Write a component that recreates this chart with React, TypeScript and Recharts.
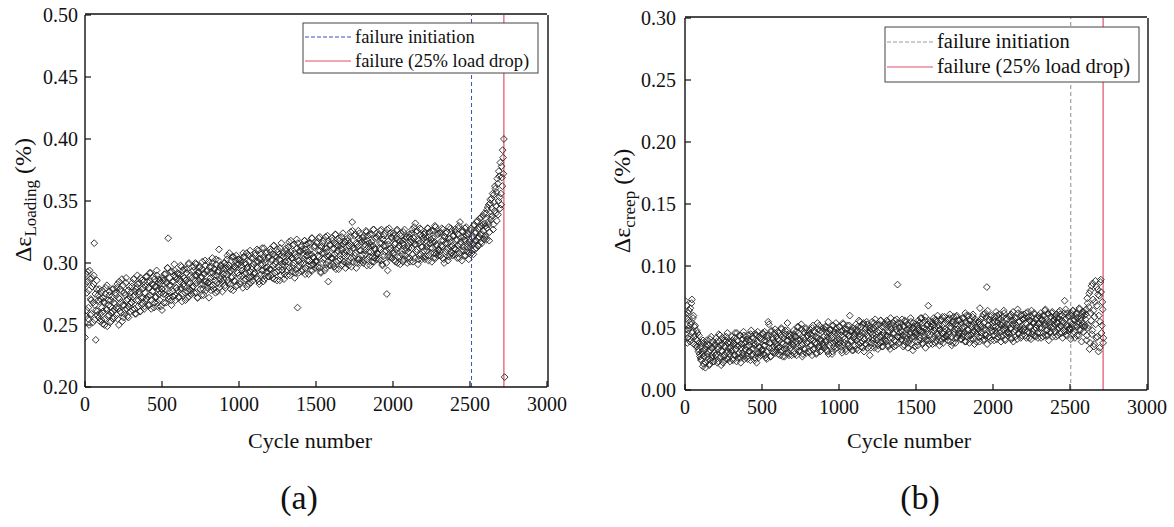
import React from 'react';
import { ScatterChart, Scatter, XAxis, YAxis, ReferenceLine } from 'recharts';

// ---------- data ----------
const CYCLE_STEP = 5;      // one reading every 5 cycles in each run of readings
const SECOND_OFFSET = 2;   // second run of readings starts at cycle 2

const X_TICKS = [0, 500, 1000, 1500, 2000, 2500, 3000];
const X_MINOR_TICKS = [0, 250, 500, 750, 1000, 1250, 1500, 1750, 2000, 2250, 2500, 2750, 3000];
const Y_TICKS_A = [0.2, 0.25, 0.3, 0.35, 0.4, 0.45, 0.5];
const Y_MINOR_TICKS_A = [0.2, 0.225, 0.25, 0.275, 0.3, 0.325, 0.35, 0.375, 0.4, 0.425, 0.45, 0.475, 0.5];
const Y_TICKS_B = [0, 0.05, 0.1, 0.15, 0.2, 0.25, 0.3];
const Y_MINOR_TICKS_B = [0, 0.025, 0.05, 0.075, 0.1, 0.125, 0.15, 0.175, 0.2, 0.225, 0.25, 0.275, 0.3];

const INITIATION_A = 2510;
const FAILURE_A = 2720;
const INITIATION_B = 2505;
const FAILURE_B = 2715;

const LEGEND_LABELS = ['failure initiation', 'failure (25% load drop)'];

// Δε_Loading (%) – rows of 20 readings = 100 cycles (cycles 0, 5, 10, ...)
const LOADING = [
  0.240, 0.291, 0.262, 0.285, 0.255, 0.278, 0.294, 0.258, 0.270, 0.288, 0.252, 0.283, 0.316, 0.266, 0.238, 0.279, 0.261, 0.274, 0.256, 0.269,
  0.259, 0.276, 0.264, 0.251, 0.272, 0.268, 0.255, 0.280, 0.262, 0.249, 0.270, 0.258, 0.277, 0.265, 0.253, 0.273, 0.261, 0.279, 0.256, 0.267,
  0.274, 0.258, 0.283, 0.263, 0.250, 0.271, 0.279, 0.260, 0.287, 0.266, 0.256, 0.276, 0.262, 0.284, 0.270, 0.257, 0.278, 0.265, 0.273, 0.261,
  0.268, 0.281, 0.262, 0.287, 0.274, 0.259, 0.279, 0.270, 0.290, 0.265, 0.277, 0.284, 0.261, 0.272, 0.286, 0.267, 0.280, 0.263, 0.276, 0.289,
  0.271, 0.285, 0.266, 0.280, 0.292, 0.274, 0.263, 0.283, 0.277, 0.289, 0.268, 0.281, 0.273, 0.294, 0.265, 0.279, 0.287, 0.270, 0.284, 0.276,
  0.262, 0.286, 0.275, 0.291, 0.279, 0.268, 0.284, 0.296, 0.320, 0.273, 0.288, 0.282, 0.270, 0.293, 0.277, 0.285, 0.299, 0.274, 0.289, 0.280,
  0.278, 0.291, 0.273, 0.287, 0.298, 0.280, 0.269, 0.289, 0.283, 0.295, 0.276, 0.286, 0.292, 0.272, 0.284, 0.300, 0.279, 0.290, 0.275, 0.288,
  0.281, 0.294, 0.276, 0.290, 0.299, 0.284, 0.272, 0.292, 0.286, 0.297, 0.279, 0.289, 0.295, 0.283, 0.274, 0.291, 0.302, 0.285, 0.293, 0.280,
  0.284, 0.272, 0.297, 0.288, 0.281, 0.300, 0.292, 0.279, 0.295, 0.286, 0.303, 0.290, 0.277, 0.294, 0.311, 0.283, 0.298, 0.289, 0.285, 0.296,
  0.287, 0.300, 0.282, 0.296, 0.291, 0.306, 0.284, 0.298, 0.293, 0.279, 0.302, 0.289, 0.295, 0.305, 0.286, 0.297, 0.281, 0.299, 0.292, 0.303,
  0.290, 0.302, 0.285, 0.298, 0.294, 0.280, 0.305, 0.291, 0.300, 0.287, 0.308, 0.296, 0.283, 0.301, 0.293, 0.289, 0.304, 0.297, 0.286, 0.299,
  0.292, 0.306, 0.288, 0.301, 0.296, 0.310, 0.285, 0.303, 0.299, 0.291, 0.312, 0.294, 0.305, 0.287, 0.300, 0.308, 0.293, 0.297, 0.304, 0.289,
  0.295, 0.309, 0.290, 0.303, 0.298, 0.314, 0.287, 0.306, 0.301, 0.293, 0.311, 0.297, 0.307, 0.286, 0.302, 0.316, 0.294, 0.299, 0.305, 0.291,
  0.298, 0.312, 0.293, 0.306, 0.301, 0.317, 0.290, 0.309, 0.304, 0.296, 0.314, 0.300, 0.308, 0.292, 0.305, 0.319, 0.264, 0.302, 0.297, 0.310,
  0.300, 0.314, 0.295, 0.308, 0.303, 0.318, 0.291, 0.311, 0.306, 0.298, 0.316, 0.302, 0.310, 0.294, 0.307, 0.320, 0.299, 0.304, 0.313, 0.296,
  0.302, 0.316, 0.297, 0.310, 0.305, 0.321, 0.293, 0.313, 0.308, 0.300, 0.318, 0.304, 0.312, 0.296, 0.309, 0.322, 0.285, 0.306, 0.315, 0.298,
  0.304, 0.318, 0.299, 0.312, 0.307, 0.323, 0.295, 0.315, 0.310, 0.302, 0.320, 0.306, 0.314, 0.298, 0.311, 0.324, 0.301, 0.308, 0.317, 0.300,
  0.306, 0.320, 0.301, 0.314, 0.309, 0.325, 0.297, 0.333, 0.312, 0.304, 0.322, 0.308, 0.316, 0.300, 0.313, 0.326, 0.303, 0.310, 0.319, 0.302,
  0.307, 0.321, 0.302, 0.315, 0.310, 0.326, 0.298, 0.318, 0.313, 0.305, 0.323, 0.309, 0.317, 0.301, 0.314, 0.327, 0.304, 0.311, 0.320, 0.303,
  0.308, 0.322, 0.303, 0.316, 0.311, 0.327, 0.299, 0.319, 0.314, 0.306, 0.324, 0.310, 0.275, 0.294, 0.315, 0.328, 0.305, 0.312, 0.321, 0.304,
  0.308, 0.322, 0.302, 0.316, 0.311, 0.326, 0.300, 0.319, 0.314, 0.305, 0.324, 0.310, 0.318, 0.301, 0.315, 0.327, 0.306, 0.312, 0.321, 0.304,
  0.309, 0.323, 0.304, 0.317, 0.312, 0.327, 0.301, 0.320, 0.315, 0.332, 0.325, 0.311, 0.319, 0.303, 0.316, 0.328, 0.307, 0.313, 0.322, 0.305,
  0.310, 0.324, 0.305, 0.318, 0.313, 0.328, 0.302, 0.321, 0.316, 0.308, 0.326, 0.312, 0.320, 0.304, 0.317, 0.329, 0.307, 0.314, 0.323, 0.306,
  0.311, 0.324, 0.306, 0.318, 0.313, 0.327, 0.303, 0.321, 0.316, 0.309, 0.325, 0.312, 0.320, 0.305, 0.317, 0.328, 0.308, 0.314, 0.322, 0.307,
  0.312, 0.325, 0.307, 0.319, 0.314, 0.328, 0.304, 0.333, 0.317, 0.310, 0.326, 0.313, 0.321, 0.306, 0.318, 0.329, 0.309, 0.315, 0.323, 0.308,
  0.313, 0.326, 0.308, 0.320, 0.316, 0.330, 0.311, 0.324, 0.318, 0.333, 0.314, 0.327, 0.321, 0.336, 0.317, 0.330, 0.323, 0.338, 0.319, 0.332,
  0.322, 0.340, 0.328, 0.345, 0.331, 0.318, 0.348, 0.335, 0.352, 0.338, 0.327, 0.355, 0.342, 0.360, 0.346, 0.334, 0.364, 0.350, 0.370, 0.344,
  0.356, 0.378, 0.362, 0.385, 0.400, 0.208,
];

// Δε_Loading (%) – second run of readings (cycles 2, 7, 12, ...)
const LOADING_2 = [
  0.283, 0.257, 0.276, 0.293, 0.264, 0.250, 0.287, 0.271, 0.259, 0.281, 0.268, 0.290, 0.254, 0.275, 0.262, 0.286, 0.258, 0.270, 0.279, 0.253,
  0.271, 0.254, 0.278, 0.261, 0.269, 0.250, 0.275, 0.263, 0.282, 0.257, 0.266, 0.274, 0.252, 0.270, 0.260, 0.279, 0.255, 0.268, 0.262, 0.276,
  0.264, 0.280, 0.255, 0.272, 0.285, 0.261, 0.268, 0.277, 0.253, 0.282, 0.266, 0.259, 0.274, 0.288, 0.263, 0.271, 0.256, 0.281, 0.267, 0.276,
  0.268, 0.284, 0.273, 0.287, 0.263, 0.277, 0.259, 0.280, 0.283, 0.270, 0.275, 0.261, 0.288, 0.266, 0.279, 0.272, 0.285, 0.265, 0.281, 0.271,
  0.289, 0.273, 0.280, 0.266, 0.285, 0.292, 0.270, 0.277, 0.283, 0.264, 0.287, 0.272, 0.281, 0.290, 0.268, 0.284, 0.275, 0.286, 0.265, 0.279,
  0.279, 0.288, 0.268, 0.286, 0.291, 0.274, 0.284, 0.296, 0.271, 0.282, 0.276, 0.293, 0.266, 0.285, 0.273, 0.290, 0.294, 0.270, 0.280, 0.287,
  0.292, 0.272, 0.290, 0.285, 0.279, 0.297, 0.275, 0.294, 0.281, 0.288, 0.270, 0.286, 0.295, 0.277, 0.299, 0.273, 0.284, 0.278, 0.293, 0.280,
  0.281, 0.297, 0.286, 0.300, 0.276, 0.290, 0.272, 0.293, 0.296, 0.283, 0.288, 0.274, 0.301, 0.279, 0.292, 0.285, 0.298, 0.278, 0.294, 0.284,
  0.301, 0.285, 0.292, 0.278, 0.297, 0.304, 0.282, 0.289, 0.295, 0.276, 0.299, 0.284, 0.293, 0.302, 0.280, 0.296, 0.287, 0.298, 0.277, 0.291,
  0.291, 0.300, 0.280, 0.298, 0.303, 0.286, 0.296, 0.308, 0.283, 0.294, 0.288, 0.305, 0.278, 0.297, 0.285, 0.302, 0.306, 0.282, 0.292, 0.299,
  0.303, 0.283, 0.301, 0.296, 0.290, 0.308, 0.286, 0.305, 0.292, 0.299, 0.281, 0.297, 0.306, 0.288, 0.310, 0.284, 0.295, 0.289, 0.304, 0.291,
  0.292, 0.308, 0.297, 0.311, 0.287, 0.301, 0.283, 0.304, 0.307, 0.294, 0.299, 0.285, 0.312, 0.290, 0.303, 0.296, 0.309, 0.289, 0.305, 0.295,
  0.311, 0.295, 0.302, 0.288, 0.307, 0.314, 0.292, 0.299, 0.305, 0.286, 0.309, 0.294, 0.303, 0.312, 0.290, 0.306, 0.297, 0.308, 0.287, 0.301,
  0.301, 0.310, 0.290, 0.308, 0.313, 0.296, 0.306, 0.318, 0.293, 0.304, 0.298, 0.315, 0.288, 0.307, 0.295, 0.312, 0.316, 0.292, 0.302, 0.309,
  0.313, 0.293, 0.311, 0.306, 0.300, 0.318, 0.296, 0.315, 0.302, 0.309, 0.291, 0.307, 0.316, 0.298, 0.320, 0.294, 0.305, 0.299, 0.314, 0.301,
  0.301, 0.317, 0.306, 0.320, 0.296, 0.310, 0.292, 0.313, 0.316, 0.303, 0.308, 0.294, 0.321, 0.299, 0.312, 0.305, 0.318, 0.298, 0.314, 0.304,
  0.320, 0.304, 0.311, 0.297, 0.316, 0.323, 0.301, 0.308, 0.314, 0.295, 0.318, 0.303, 0.312, 0.321, 0.299, 0.315, 0.306, 0.317, 0.296, 0.310,
  0.309, 0.318, 0.298, 0.316, 0.321, 0.304, 0.314, 0.326, 0.301, 0.312, 0.306, 0.323, 0.296, 0.315, 0.303, 0.320, 0.324, 0.300, 0.310, 0.317,
  0.320, 0.300, 0.318, 0.313, 0.307, 0.325, 0.303, 0.322, 0.309, 0.316, 0.298, 0.314, 0.323, 0.305, 0.327, 0.301, 0.312, 0.306, 0.321, 0.308,
  0.307, 0.323, 0.312, 0.326, 0.302, 0.316, 0.298, 0.319, 0.322, 0.309, 0.314, 0.300, 0.327, 0.305, 0.318, 0.311, 0.324, 0.304, 0.320, 0.310,
  0.324, 0.308, 0.315, 0.301, 0.320, 0.327, 0.305, 0.312, 0.318, 0.299, 0.322, 0.307, 0.316, 0.325, 0.303, 0.319, 0.310, 0.321, 0.300, 0.314,
  0.312, 0.321, 0.301, 0.319, 0.324, 0.307, 0.317, 0.329, 0.304, 0.315, 0.309, 0.326, 0.299, 0.318, 0.306, 0.323, 0.327, 0.303, 0.313, 0.320,
  0.323, 0.303, 0.321, 0.316, 0.310, 0.328, 0.306, 0.325, 0.312, 0.319, 0.301, 0.317, 0.326, 0.308, 0.330, 0.304, 0.315, 0.309, 0.324, 0.311,
  0.309, 0.325, 0.314, 0.328, 0.304, 0.318, 0.300, 0.321, 0.324, 0.311, 0.316, 0.302, 0.329, 0.307, 0.320, 0.313, 0.326, 0.306, 0.322, 0.312,
  0.327, 0.311, 0.318, 0.304, 0.323, 0.330, 0.308, 0.315, 0.321, 0.302, 0.325, 0.310, 0.319, 0.328, 0.306, 0.322, 0.313, 0.324, 0.303, 0.317,
  0.315, 0.328, 0.310, 0.322, 0.307, 0.331, 0.318, 0.325, 0.312, 0.334, 0.320, 0.314, 0.329, 0.323, 0.337, 0.316, 0.331, 0.326, 0.340, 0.321,
  0.330, 0.319, 0.343, 0.333, 0.347, 0.325, 0.351, 0.337, 0.344, 0.356, 0.331, 0.349, 0.362, 0.340, 0.357, 0.368, 0.339, 0.374, 0.353, 0.381,
  0.347, 0.369, 0.391, 0.372,
];

// Δε_creep (%) – rows of 20 readings = 100 cycles (cycles 0, 5, 10, ...)
const CREEP = [
  0.072, 0.045, 0.058, 0.038, 0.062, 0.050, 0.041, 0.066, 0.055, 0.073, 0.047, 0.060, 0.043, 0.052, 0.036, 0.048, 0.040, 0.033, 0.044, 0.029,
  0.035, 0.024, 0.031, 0.019, 0.038, 0.027, 0.033, 0.022, 0.040, 0.029, 0.025, 0.036, 0.021, 0.032, 0.043, 0.026, 0.034, 0.023, 0.030, 0.037,
  0.028, 0.039, 0.022, 0.033, 0.045, 0.026, 0.036, 0.020, 0.031, 0.042, 0.027, 0.035, 0.024, 0.040, 0.030, 0.046, 0.025, 0.034, 0.029, 0.038,
  0.031, 0.043, 0.025, 0.037, 0.028, 0.046, 0.033, 0.023, 0.040, 0.029, 0.036, 0.044, 0.026, 0.034, 0.041, 0.030, 0.047, 0.027, 0.038, 0.032,
  0.035, 0.027, 0.044, 0.031, 0.039, 0.024, 0.048, 0.033, 0.029, 0.042, 0.036, 0.026, 0.045, 0.022, 0.038, 0.030, 0.043, 0.034, 0.028, 0.041,
  0.033, 0.046, 0.029, 0.040, 0.036, 0.026, 0.044, 0.031, 0.055, 0.053, 0.038, 0.027, 0.047, 0.034, 0.042, 0.030, 0.039, 0.049, 0.032, 0.037,
  0.041, 0.029, 0.046, 0.035, 0.031, 0.050, 0.038, 0.027, 0.044, 0.033, 0.048, 0.036, 0.030, 0.054, 0.040, 0.028, 0.045, 0.034, 0.042, 0.037,
  0.036, 0.048, 0.031, 0.043, 0.039, 0.028, 0.051, 0.035, 0.046, 0.032, 0.041, 0.053, 0.037, 0.029, 0.047, 0.040, 0.033, 0.050, 0.038, 0.044,
  0.039, 0.031, 0.049, 0.036, 0.044, 0.028, 0.052, 0.040, 0.034, 0.047, 0.037, 0.030, 0.054, 0.042, 0.035, 0.048, 0.041, 0.032, 0.050, 0.038,
  0.043, 0.034, 0.051, 0.039, 0.046, 0.031, 0.055, 0.041, 0.036, 0.049, 0.044, 0.029, 0.052, 0.038, 0.047, 0.033, 0.054, 0.040, 0.045, 0.037,
  0.041, 0.051, 0.035, 0.047, 0.030, 0.054, 0.043, 0.038, 0.049, 0.033, 0.045, 0.052, 0.036, 0.044, 0.060, 0.039, 0.048, 0.032, 0.050, 0.042,
  0.045, 0.036, 0.053, 0.040, 0.048, 0.032, 0.056, 0.043, 0.038, 0.051, 0.046, 0.034, 0.054, 0.041, 0.049, 0.037, 0.055, 0.044, 0.039, 0.050,
  0.028, 0.047, 0.038, 0.055, 0.042, 0.050, 0.034, 0.057, 0.045, 0.040, 0.052, 0.036, 0.048, 0.043, 0.056, 0.039, 0.051, 0.035, 0.046, 0.053,
  0.044, 0.039, 0.056, 0.047, 0.035, 0.053, 0.042, 0.058, 0.049, 0.037, 0.054, 0.045, 0.040, 0.051, 0.036, 0.057, 0.085, 0.043, 0.050, 0.046,
  0.048, 0.040, 0.057, 0.044, 0.052, 0.036, 0.055, 0.046, 0.041, 0.053, 0.038, 0.050, 0.045, 0.058, 0.042, 0.049, 0.032, 0.054, 0.043, 0.047,
  0.045, 0.053, 0.039, 0.056, 0.048, 0.042, 0.058, 0.047, 0.037, 0.054, 0.050, 0.044, 0.059, 0.041, 0.052, 0.046, 0.068, 0.040, 0.055, 0.049,
  0.047, 0.055, 0.041, 0.058, 0.050, 0.038, 0.056, 0.045, 0.060, 0.043, 0.052, 0.048, 0.039, 0.057, 0.046, 0.053, 0.042, 0.059, 0.049, 0.044,
  0.048, 0.040, 0.057, 0.045, 0.061, 0.051, 0.043, 0.055, 0.038, 0.059, 0.047, 0.053, 0.042, 0.060, 0.049, 0.044, 0.056, 0.046, 0.052, 0.041,
  0.050, 0.043, 0.058, 0.047, 0.062, 0.039, 0.054, 0.049, 0.060, 0.044, 0.056, 0.041, 0.053, 0.046, 0.061, 0.048, 0.037, 0.057, 0.051, 0.045,
  0.049, 0.055, 0.043, 0.066, 0.051, 0.046, 0.059, 0.040, 0.054, 0.048, 0.062, 0.044, 0.083, 0.064, 0.052, 0.057, 0.042, 0.050, 0.060, 0.047,
  0.051, 0.044, 0.059, 0.048, 0.063, 0.041, 0.055, 0.050, 0.061, 0.046, 0.057, 0.043, 0.054, 0.049, 0.064, 0.052, 0.040, 0.058, 0.053, 0.047,
  0.052, 0.045, 0.060, 0.049, 0.041, 0.056, 0.063, 0.047, 0.054, 0.043, 0.058, 0.050, 0.065, 0.046, 0.055, 0.051, 0.042, 0.061, 0.048, 0.057,
  0.050, 0.058, 0.044, 0.062, 0.053, 0.047, 0.059, 0.042, 0.056, 0.051, 0.064, 0.045, 0.055, 0.049, 0.061, 0.043, 0.057, 0.052, 0.046, 0.060,
  0.054, 0.046, 0.062, 0.050, 0.057, 0.043, 0.060, 0.052, 0.065, 0.048, 0.055, 0.044, 0.061, 0.053, 0.047, 0.059, 0.051, 0.063, 0.049, 0.056,
  0.053, 0.047, 0.061, 0.055, 0.044, 0.058, 0.050, 0.064, 0.052, 0.046, 0.060, 0.054, 0.048, 0.072, 0.057, 0.045, 0.062, 0.051, 0.059, 0.049,
  0.055, 0.041, 0.060, 0.050, 0.064, 0.047, 0.057, 0.052, 0.062, 0.044, 0.058, 0.053, 0.066, 0.049, 0.056, 0.039, 0.061, 0.054, 0.063, 0.051,
  0.057, 0.065, 0.044, 0.070, 0.052, 0.078, 0.038, 0.062, 0.084, 0.048, 0.073, 0.035, 0.059, 0.088, 0.042, 0.068, 0.081, 0.031, 0.076, 0.055,
  0.089, 0.046, 0.071, 0.038,
];

// Δε_creep (%) – second run of readings (cycles 2, 7, 12, ...)
const CREEP_2 = [
  0.061, 0.049, 0.068, 0.042, 0.056, 0.064, 0.039, 0.053, 0.070, 0.046, 0.058, 0.037, 0.051, 0.044, 0.041, 0.035, 0.046, 0.031, 0.038, 0.027,
  0.025, 0.038, 0.029, 0.040, 0.021, 0.032, 0.018, 0.035, 0.037, 0.027, 0.031, 0.020, 0.041, 0.024, 0.034, 0.028, 0.039, 0.023, 0.036, 0.028,
  0.042, 0.029, 0.035, 0.023, 0.039, 0.044, 0.027, 0.032, 0.037, 0.022, 0.040, 0.028, 0.035, 0.043, 0.025, 0.038, 0.031, 0.039, 0.023, 0.034,
  0.032, 0.040, 0.024, 0.038, 0.042, 0.028, 0.036, 0.046, 0.026, 0.035, 0.030, 0.044, 0.022, 0.037, 0.028, 0.041, 0.044, 0.025, 0.033, 0.039,
  0.041, 0.025, 0.040, 0.036, 0.031, 0.045, 0.028, 0.043, 0.033, 0.038, 0.024, 0.037, 0.044, 0.029, 0.047, 0.026, 0.035, 0.030, 0.042, 0.032,
  0.032, 0.045, 0.036, 0.047, 0.028, 0.039, 0.025, 0.042, 0.044, 0.034, 0.038, 0.027, 0.048, 0.031, 0.041, 0.035, 0.046, 0.030, 0.043, 0.035,
  0.047, 0.034, 0.040, 0.028, 0.044, 0.049, 0.032, 0.037, 0.042, 0.027, 0.045, 0.033, 0.040, 0.048, 0.030, 0.043, 0.036, 0.044, 0.028, 0.039,
  0.037, 0.045, 0.029, 0.043, 0.047, 0.033, 0.041, 0.051, 0.031, 0.040, 0.035, 0.049, 0.027, 0.042, 0.033, 0.046, 0.049, 0.030, 0.038, 0.044,
  0.046, 0.030, 0.045, 0.041, 0.036, 0.050, 0.033, 0.048, 0.038, 0.043, 0.029, 0.042, 0.049, 0.034, 0.052, 0.031, 0.040, 0.035, 0.047, 0.037,
  0.036, 0.049, 0.040, 0.051, 0.032, 0.043, 0.029, 0.046, 0.048, 0.038, 0.042, 0.031, 0.052, 0.035, 0.045, 0.039, 0.050, 0.034, 0.047, 0.039,
  0.051, 0.038, 0.044, 0.032, 0.048, 0.053, 0.036, 0.041, 0.046, 0.031, 0.049, 0.037, 0.044, 0.052, 0.034, 0.047, 0.040, 0.048, 0.032, 0.043,
  0.041, 0.049, 0.033, 0.047, 0.051, 0.037, 0.045, 0.055, 0.035, 0.044, 0.039, 0.053, 0.031, 0.046, 0.037, 0.050, 0.053, 0.034, 0.042, 0.048,
  0.050, 0.034, 0.049, 0.045, 0.040, 0.054, 0.037, 0.052, 0.042, 0.047, 0.033, 0.046, 0.053, 0.038, 0.056, 0.035, 0.044, 0.039, 0.051, 0.041,
  0.040, 0.053, 0.044, 0.055, 0.036, 0.047, 0.033, 0.050, 0.052, 0.042, 0.046, 0.035, 0.056, 0.039, 0.049, 0.043, 0.054, 0.038, 0.051, 0.043,
  0.054, 0.041, 0.047, 0.035, 0.051, 0.056, 0.039, 0.044, 0.049, 0.034, 0.052, 0.040, 0.047, 0.055, 0.037, 0.050, 0.043, 0.051, 0.035, 0.046,
  0.044, 0.052, 0.036, 0.050, 0.054, 0.040, 0.048, 0.058, 0.038, 0.047, 0.042, 0.056, 0.034, 0.049, 0.040, 0.053, 0.056, 0.037, 0.045, 0.051,
  0.053, 0.037, 0.052, 0.048, 0.043, 0.057, 0.040, 0.055, 0.045, 0.050, 0.036, 0.049, 0.056, 0.041, 0.059, 0.038, 0.047, 0.042, 0.054, 0.044,
  0.043, 0.056, 0.047, 0.058, 0.039, 0.050, 0.036, 0.053, 0.055, 0.045, 0.049, 0.038, 0.059, 0.042, 0.052, 0.046, 0.057, 0.041, 0.054, 0.046,
  0.058, 0.045, 0.051, 0.039, 0.055, 0.060, 0.043, 0.048, 0.053, 0.038, 0.056, 0.044, 0.051, 0.059, 0.041, 0.054, 0.047, 0.055, 0.039, 0.050,
  0.047, 0.055, 0.039, 0.053, 0.057, 0.043, 0.051, 0.061, 0.041, 0.050, 0.045, 0.059, 0.037, 0.052, 0.043, 0.056, 0.059, 0.040, 0.048, 0.054,
  0.056, 0.040, 0.055, 0.051, 0.046, 0.060, 0.043, 0.058, 0.048, 0.053, 0.039, 0.052, 0.059, 0.044, 0.062, 0.041, 0.050, 0.045, 0.057, 0.047,
  0.046, 0.059, 0.050, 0.061, 0.042, 0.053, 0.039, 0.056, 0.058, 0.048, 0.052, 0.041, 0.062, 0.045, 0.055, 0.049, 0.060, 0.044, 0.057, 0.049,
  0.061, 0.048, 0.054, 0.042, 0.058, 0.063, 0.046, 0.051, 0.056, 0.041, 0.059, 0.047, 0.054, 0.062, 0.044, 0.057, 0.050, 0.058, 0.042, 0.053,
  0.050, 0.058, 0.042, 0.056, 0.060, 0.046, 0.054, 0.064, 0.044, 0.053, 0.048, 0.062, 0.040, 0.055, 0.046, 0.059, 0.062, 0.043, 0.051, 0.057,
  0.059, 0.043, 0.058, 0.054, 0.049, 0.063, 0.046, 0.061, 0.051, 0.056, 0.042, 0.055, 0.062, 0.047, 0.065, 0.044, 0.053, 0.048, 0.060, 0.050,
  0.049, 0.062, 0.053, 0.064, 0.045, 0.056, 0.042, 0.059, 0.061, 0.051, 0.055, 0.044, 0.065, 0.048, 0.058, 0.052, 0.063, 0.047, 0.060, 0.052,
  0.061, 0.040, 0.074, 0.050, 0.067, 0.033, 0.080, 0.056, 0.045, 0.086, 0.064, 0.037, 0.071, 0.053, 0.083, 0.043, 0.077, 0.060, 0.034, 0.087,
  0.079, 0.052, 0.065, 0.042,
];

const toPoints = (first: number[], second: number[]) => [
  ...first.map((v, i) => ({ cycle: i * CYCLE_STEP, value: v })),
  ...second.map((v, i) => ({ cycle: i * CYCLE_STEP + SECOND_OFFSET, value: v })),
];
const loadingPoints = toPoints(LOADING, LOADING_2);
const creepPoints = toPoints(CREEP, CREEP_2);

// ---------- styles ----------
const SERIF = '"Liberation Serif", "Times New Roman", serif';
const AXIS_COLOR = '#111';
const TEXT_COLOR = '#111';
const RED = '#e2506c';

const Diamond = (props: any) => {
  const { cx, cy } = props;
  if (cx == null || cy == null) return null;
  const r = 3.4;
  return (
    <path
      d={`M${cx},${cy - r}L${cx + r},${cy}L${cx},${cy + r}L${cx - r},${cy}Z`}
      fill="none"
      stroke="#222"
      strokeWidth={0.9}
    />
  );
};

type PanelProps = {
  left: number;
  width: number;
  margin: { top: number; right: number; bottom: number; left: number };
  points: { cycle: number; value: number }[];
  yDomain: [number, number];
  yTicks: number[];
  yMinor: number[];
  yTickMargin: number;
  initiation: number;
  failure: number;
  dashColor: string;
};

const Panel = (p: PanelProps) => {
  const axisLine = { stroke: AXIS_COLOR, strokeWidth: 1.4 };
  const tickLine = { stroke: AXIS_COLOR, strokeWidth: 1.2 };
  const tickFont = { fontFamily: SERIF, fontSize: 20, fill: TEXT_COLOR };
  return (
    <div style={{ position: 'absolute', left: p.left, top: 0 }}>
      <ScatterChart width={p.width} height={527} margin={p.margin}>
        {/* major axes (closest to the plot) */}
        <XAxis xAxisId="x" type="number" dataKey="cycle" domain={[0, 3000]} ticks={X_TICKS} height={1}
          tickSize={-6} tickMargin={16} tick={tickFont} axisLine={axisLine} tickLine={tickLine}
          interval={0} allowDataOverflow />
        <XAxis xAxisId="xt" orientation="top" type="number" domain={[0, 3000]} ticks={X_TICKS} height={1}
          tickSize={-6} tick={false} axisLine={axisLine} tickLine={tickLine} interval={0} allowDataOverflow />
        <YAxis yAxisId="y" type="number" dataKey="value" domain={p.yDomain} ticks={p.yTicks} width={1}
          tickSize={-6} tickMargin={p.yTickMargin} tick={tickFont} axisLine={axisLine} tickLine={tickLine}
          tickFormatter={(v: number) => v.toFixed(2)} interval={0} allowDataOverflow />
        <YAxis yAxisId="yr" orientation="right" type="number" domain={p.yDomain} ticks={p.yTicks} width={1}
          tickSize={-6} tick={false} axisLine={axisLine} tickLine={tickLine} interval={0} allowDataOverflow />
        {/* minor ticks */}
        <XAxis xAxisId="xm" type="number" domain={[0, 3000]} ticks={X_MINOR_TICKS} height={1}
          tickSize={-4} tick={false} axisLine={false} tickLine={tickLine} interval={0} allowDataOverflow />
        <XAxis xAxisId="xmt" orientation="top" type="number" domain={[0, 3000]} ticks={X_MINOR_TICKS} height={1}
          tickSize={-4} tick={false} axisLine={false} tickLine={tickLine} interval={0} allowDataOverflow />
        <YAxis yAxisId="ym" type="number" domain={p.yDomain} ticks={p.yMinor} width={1}
          tickSize={-4} tick={false} axisLine={false} tickLine={tickLine} interval={0} allowDataOverflow />
        <YAxis yAxisId="ymr" orientation="right" type="number" domain={p.yDomain} ticks={p.yMinor} width={1}
          tickSize={-4} tick={false} axisLine={false} tickLine={tickLine} interval={0} allowDataOverflow />
        <Scatter data={p.points} xAxisId="x" yAxisId="y" shape={Diamond} isAnimationActive={false} />
        <ReferenceLine xAxisId="x" yAxisId="y" x={p.initiation} stroke={p.dashColor} strokeWidth={1} strokeDasharray="4 3" />
        <ReferenceLine xAxisId="x" yAxisId="y" x={p.failure} stroke={RED} strokeWidth={1.2} />
      </ScatterChart>
    </div>
  );
};

const LegendBox = ({ x, y, w, h, row1, row2, fontSize, dashColor }: any) => (
  <g>
    <rect x={x} y={y} width={w} height={h} fill="#fff" stroke="#444" strokeWidth={1} />
    <line x1={x + 2} x2={x + 48} y1={row1 - 6} y2={row1 - 6} stroke={dashColor} strokeWidth={1} strokeDasharray="4 2" />
    <text x={x + 52} y={row1} fontFamily={SERIF} fontSize={fontSize} fill={TEXT_COLOR}>{LEGEND_LABELS[0]}</text>
    <line x1={x + 2} x2={x + 48} y1={row2 - 6} y2={row2 - 6} stroke={RED} strokeWidth={1.2} />
    <text x={x + 52} y={row2} fontFamily={SERIF} fontSize={fontSize} fill={TEXT_COLOR}>{LEGEND_LABELS[1]}</text>
  </g>
);

const YTitle = ({ x, y, sub }: { x: number; y: number; sub: string }) => (
  <text x={x} y={y} transform={`rotate(-90, ${x}, ${y})`} textAnchor="middle" fontFamily={SERIF} fontSize={24} fill={TEXT_COLOR}>
    {'Δε'}
    <tspan fontSize={17} dy={5}>{sub}</tspan>
    <tspan dy={-5}>{' (%)'}</tspan>
  </text>
);

export default function App() {
  return (
    <div style={{ position: 'absolute', left: 0, top: 0, width: 1174, height: 527, background: '#fff', overflow: 'hidden' }}>
      <Panel
        left={0}
        width={580}
        margin={{ top: 13, right: 31, bottom: 138, left: 83 }}
        points={loadingPoints}
        yDomain={[0.2, 0.5]}
        yTicks={Y_TICKS_A}
        yMinor={Y_MINOR_TICKS_A}
        yTickMargin={13}
        initiation={INITIATION_A}
        failure={FAILURE_A}
        dashColor="#3f4fb5"
      />
      <Panel
        left={590}
        width={584}
        margin={{ top: 16, right: 25, bottom: 135, left: 93 }}
        points={creepPoints}
        yDomain={[0, 0.3]}
        yTicks={Y_TICKS_B}
        yMinor={Y_MINOR_TICKS_B}
        yTickMargin={15}
        initiation={INITIATION_B}
        failure={FAILURE_B}
        dashColor="#8a8a8a"
      />
      <svg width={1174} height={527} style={{ position: 'absolute', left: 0, top: 0, pointerEvents: 'none' }}>
        <LegendBox x={303} y={23} w={235} h={50} row1={43} row2={67} fontSize={18.5} dashColor="#3f4fb5" />
        <LegendBox x={885} y={27} w={254} h={55} row1={48} row2={73} fontSize={20.5} dashColor="#9a9a9a" />
        <YTitle x={31} y={200} sub="Loading" />
        <YTitle x={630} y={201} sub="creep" />
        <text x={310} y={448} textAnchor="middle" fontFamily={SERIF} fontSize={22} fill={TEXT_COLOR}>Cycle number</text>
        <text x={909} y={448} textAnchor="middle" fontFamily={SERIF} fontSize={22} fill={TEXT_COLOR}>Cycle number</text>
        <text x={299} y={509} textAnchor="middle" fontFamily={SERIF} fontSize={34} fill={TEXT_COLOR}>(a)</text>
        <text x={920} y={509} textAnchor="middle" fontFamily={SERIF} fontSize={34} fill={TEXT_COLOR}>(b)</text>
      </svg>
    </div>
  );
}
